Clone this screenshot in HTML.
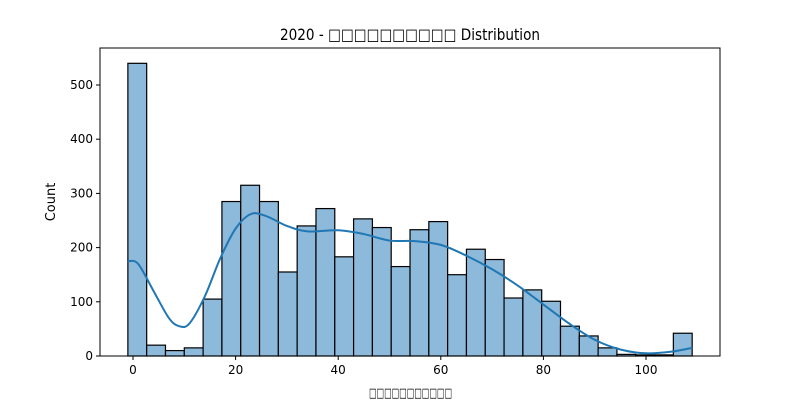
<!DOCTYPE html>
<html><head><meta charset="utf-8">
<style>
body{margin:0;background:#fff;}
svg{display:block;font-family:"DejaVu Sans","Liberation Sans","Noto Sans CJK SC",sans-serif;}
</style></head>
<body>
<svg id="chart" width="800" height="400" viewBox="0 0 800 400">
<text x="280" y="40" font-size="16" textLength="260" lengthAdjust="spacingAndGlyphs">2020 - □□□□□□□□□□ Distribution</text>
<text x="369" y="397" font-size="13" textLength="83" lengthAdjust="spacingAndGlyphs">□□□□□□□□□□□</text>
<text transform="translate(55,202) rotate(-90)" font-size="13" text-anchor="middle">Count</text>
<g id="bars"></g>
<g id="kde"></g>
<g id="axes"></g>
</svg>
<script>
const binStart = -1;
const binEnd = 109;
const counts = [540,20,10,15,105,285,315,285,155,240,272,183,253,237,165,233,248,150,197,178,107,122,101,55,37,15,3,2,2,42];
const kdeX = [-1,1,4,7,9,11,14,17,20,23,26,30,34,40,45,50,55,60,65,70,75,80,85,90,95,100,105,109];
const kdeY = [175,170,120,70,55,60,110,180,235,262,258,240,230,232,225,213,212,205,185,160,130,95,60,30,12,5,8,15];
const xTicks = [0,20,40,60,80,100];
const yTicks = [0,100,200,300,400,500];

const L=100,R=720,T=48,B=356;
const x = v => 133 + v*5.13;
const y = v => 356 - v*0.542;
const NS="http://www.w3.org/2000/svg";
function mk(tag, attrs, parent){const e=document.createElementNS(NS,tag);for(const k in attrs)e.setAttribute(k,attrs[k]);parent.appendChild(e);return e;}

const bars=document.getElementById('bars');
const w=(binEnd-binStart)/counts.length;
counts.forEach((c,i)=>{
  const x0=x(binStart+i*w), x1=x(binStart+(i+1)*w);
  const r=mk('rect',{x:x0,y:y(c),width:x1-x0,height:y(0)-y(c),fill:'#8db9da',stroke:'#000','stroke-width':1.2},bars);
  
  
});

const kde=document.getElementById('kde');
let pts=kdeX.map((v,i)=>[x(v),y(kdeY[i])]);
let d='M'+pts[0][0]+','+pts[0][1];
for(let i=0;i<pts.length-1;i++){
  const p0=pts[Math.max(0,i-1)],p1=pts[i],p2=pts[i+1],p3=pts[Math.min(pts.length-1,i+2)];
  const c1=[p1[0]+(p2[0]-p0[0])/6,p1[1]+(p2[1]-p0[1])/6];
  const c2=[p2[0]-(p3[0]-p1[0])/6,p2[1]-(p3[1]-p1[1])/6];
  d+=` C${c1[0]},${c1[1]} ${c2[0]},${c2[1]} ${p2[0]},${p2[1]}`;
}
const line=mk('path',{d:d,fill:'none',stroke:'#1f77b4','stroke-width':2},kde);



const axes=document.getElementById('axes');
const frame=mk('rect',{x:L,y:T,width:R-L,height:B-T,fill:'none',stroke:'#000','stroke-width':1},axes);


xTicks.forEach(t=>{
  mk('line',{x1:x(t),x2:x(t),y1:B,y2:B+4,stroke:'#000'},axes);
  const tx=mk('text',{x:x(t),y:B+18,'font-size':12,'text-anchor':'middle'},axes);
  tx.textContent=t;
  
  
});
yTicks.forEach(t=>{
  mk('line',{x1:L-4,x2:L,y1:y(t),y2:y(t),stroke:'#000'},axes);
  const tx=mk('text',{x:L-7,y:y(t)+4,'font-size':12,'text-anchor':'end'},axes);
  tx.textContent=t;
  
  
});
</script>
</body></html>
